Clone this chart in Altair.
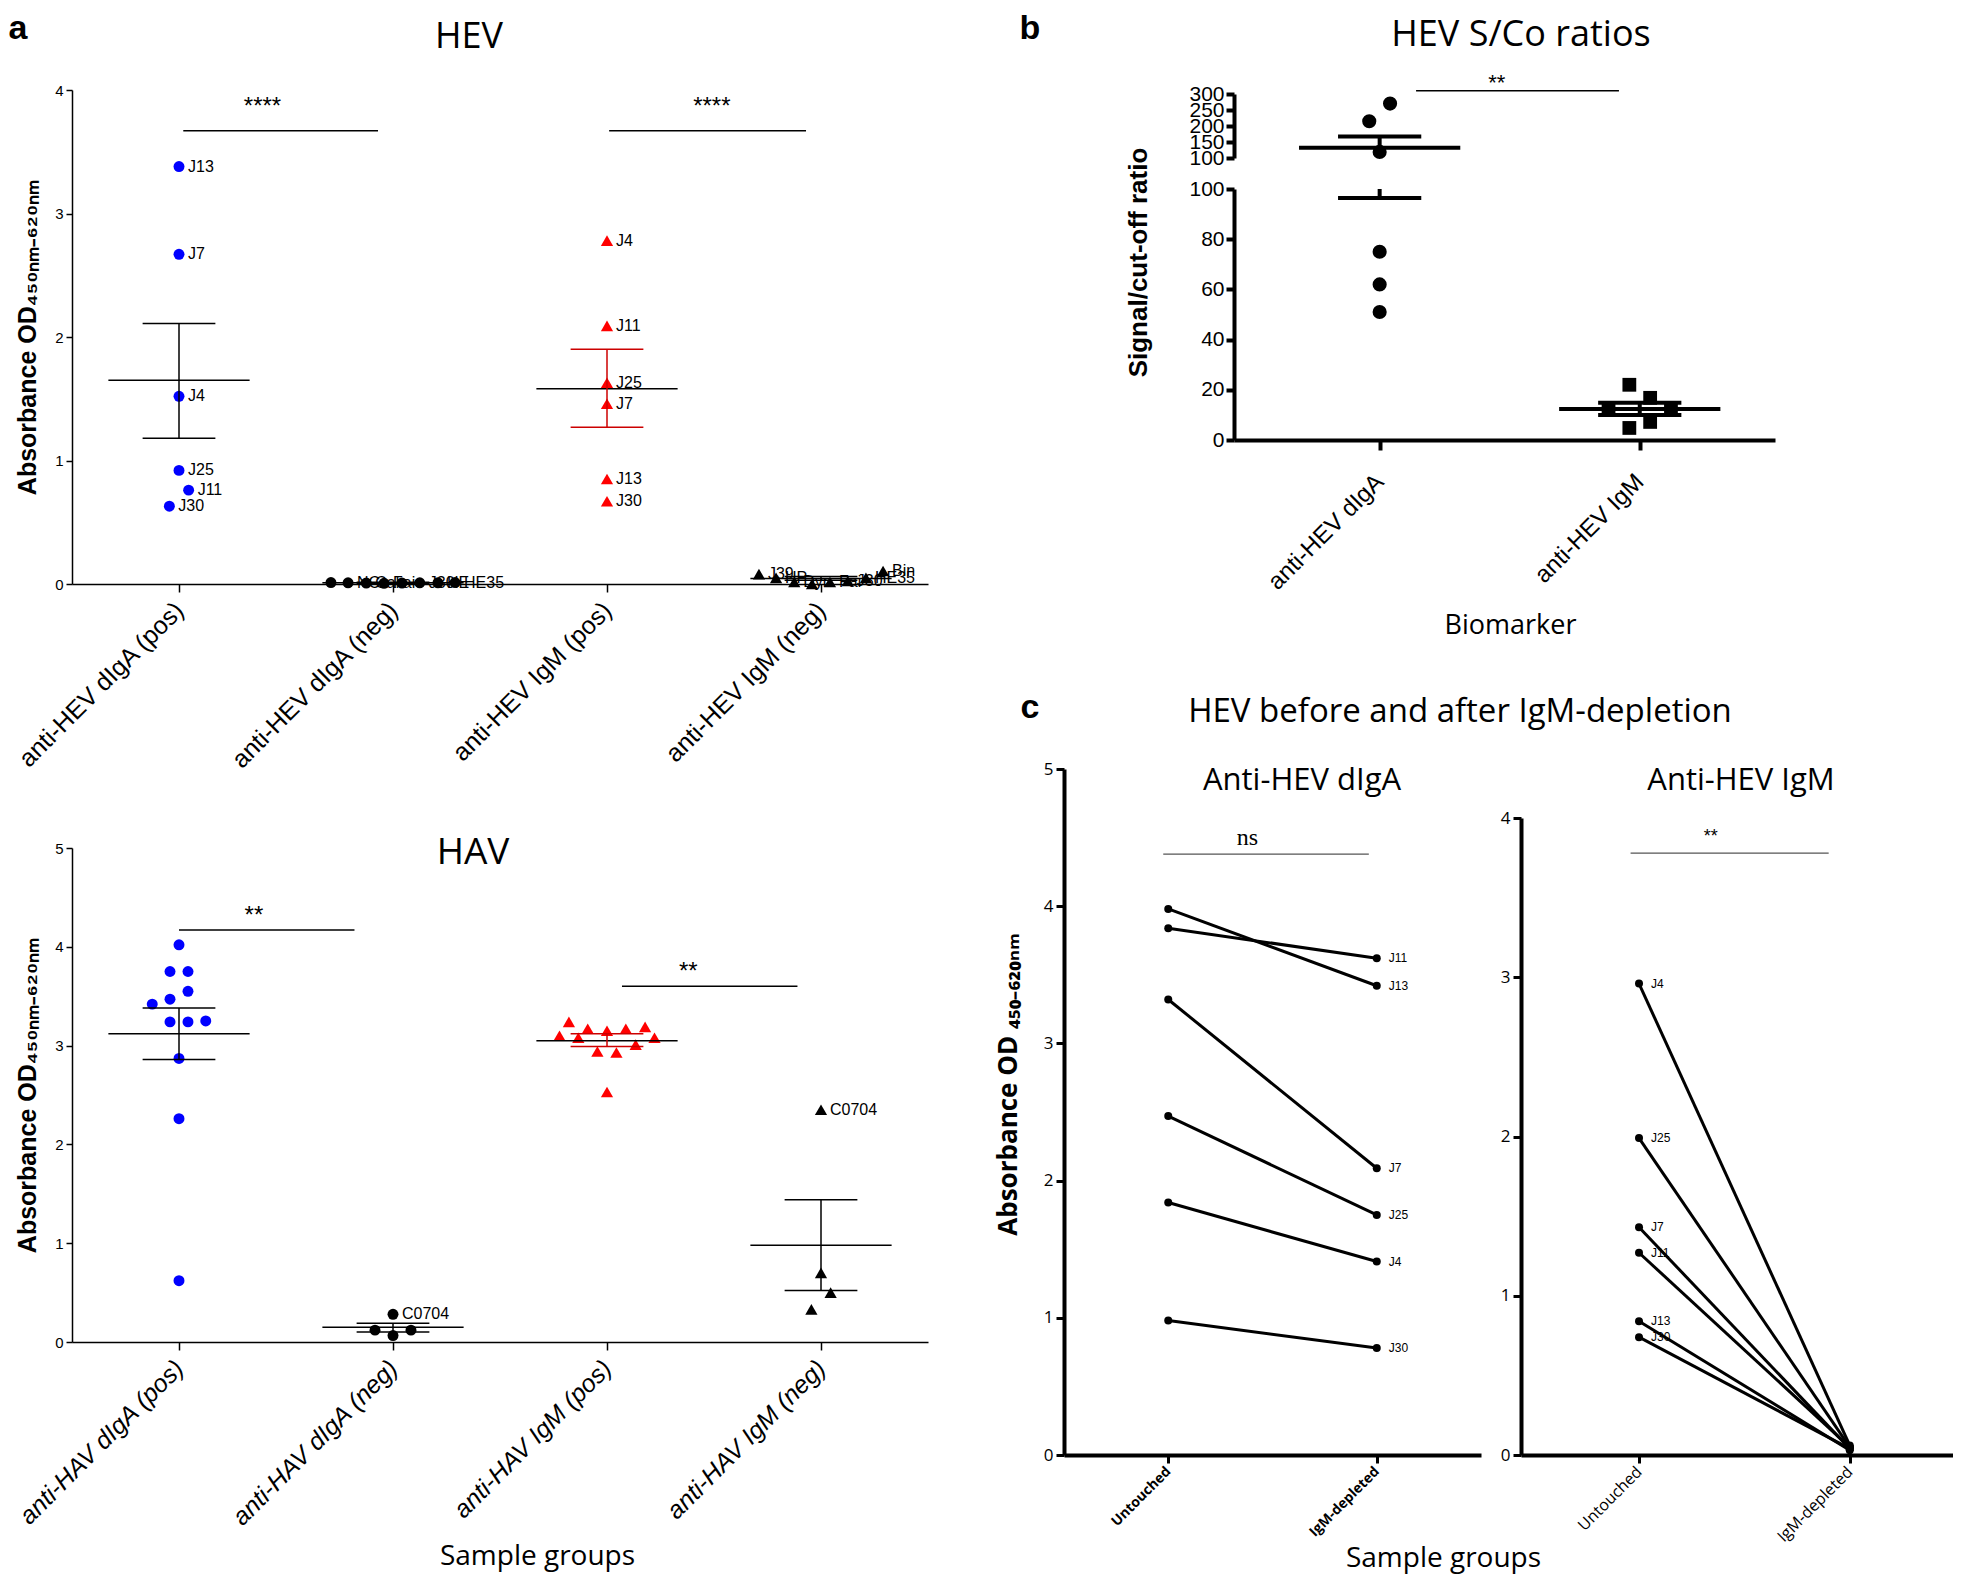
import altair as alt
import pandas as pd

FA = "Liberation Sans"
FT = "Open Sans"
FS = "Liberation Serif"

# ---------------- Panel a : HEV ----------------
hev_groups = ["anti-HEV dIgA (pos)", "anti-HEV dIgA (neg)", "anti-HEV IgM (pos)", "anti-HEV IgM (neg)"]
hev_dIgA_pos_labels = ["J13", "J7", "J4", "J25", "J11", "J30"]
hev_dIgA_pos_values = [3.38, 2.67, 1.52, 0.92, 0.76, 0.63]
hev_dIgA_pos_offsets = [0, 0, 0, 0, 0.045, -0.045]
hev_dIgA_neg_labels = ["", "NC", "Cal", "Fai", "", "J30", "HE", "HE35"]
hev_dIgA_neg_values = [0.012, 0.010, 0.008, 0.006, 0.008, 0.010, 0.010, 0.012]
hev_dIgA_neg_offsets = [-0.29, -0.21, -0.125, -0.042, 0.042, 0.125, 0.21, 0.29]
hev_IgM_pos_labels = ["J4", "J11", "J25", "J7", "J13", "J30"]
hev_IgM_pos_values = [2.78, 2.09, 1.63, 1.46, 0.85, 0.67]
hev_IgM_pos_offsets = [0, 0, 0, 0, 0, 0]
hev_IgM_neg_labels = ["J39", "HP", "Dyn", "", "Fai", "J30", "HE35", "Bin"]
hev_IgM_neg_values = [0.08, 0.05, 0.016, 0.0, 0.016, 0.024, 0.05, 0.105]
hev_IgM_neg_offsets = [-0.29, -0.21, -0.125, -0.042, 0.042, 0.125, 0.21, 0.29]
hev_mean = [1.65, 0.010, 1.58, 0.045]
hev_sem_low = [1.18, 0.006, 1.27, 0.030]
hev_sem_high = [2.11, 0.014, 1.90, 0.060]
hev_sig_from = [1.02, 3.01]
hev_sig_to = [1.93, 3.93]
hev_sig_level = [3.67, 3.67]
hev_sig_text_x = [1.39, 3.49]
hev_sig_text_y = [3.86, 3.86]
hev_sig_text = ["****", "****"]

# ---------------- Panel a : HAV ----------------
hav_groups = ["anti-HAV dIgA (pos)", "anti-HAV dIgA (neg)", "anti-HAV IgM (pos)", "anti-HAV IgM (neg)"]
hav_dIgA_pos_values = [4.02, 3.75, 3.75, 3.55, 3.47, 3.42, 3.24, 3.24, 3.25, 2.87, 2.26, 0.62]
hav_dIgA_pos_offsets = [0, -0.042, 0.042, 0.042, -0.042, -0.125, -0.042, 0.042, 0.125, 0, 0, 0]
hav_dIgA_neg_labels = ["C0704", "", "", ""]
hav_dIgA_neg_values = [0.28, 0.12, 0.065, 0.12]
hav_dIgA_neg_offsets = [0, -0.084, 0, 0.084]
hav_IgM_pos_values = [3.24, 3.10, 3.08, 3.17, 3.15, 3.17, 3.19, 3.08, 3.01, 2.94, 2.93, 2.53]
hav_IgM_pos_offsets = [-0.178, -0.222, -0.134, -0.09, 0, 0.088, 0.178, 0.222, 0.134, -0.045, 0.044, 0]
hav_IgM_neg_labels = ["C0704", "", "", ""]
hav_IgM_neg_values = [2.35, 0.70, 0.50, 0.33]
hav_IgM_neg_offsets = [0, 0, 0.045, -0.045]
hav_mean = [3.12, 0.15, 3.05, 0.98]
hav_sem_low = [2.86, 0.10, 2.99, 0.52]
hav_sem_high = [3.38, 0.19, 3.12, 1.44]
hav_sig_from = [1.00, 3.07]
hav_sig_to = [1.82, 3.89]
hav_sig_level = [4.17, 3.60]
hav_sig_text_x = [1.35, 3.38]
hav_sig_text_y = [4.31, 3.75]
hav_sig_text = ["**", "**"]

# ---------------- Panel b : S/Co ratios ----------------
b_groups = ["anti-HEV dIgA", "anti-HEV IgM"]
b_dIgA_values = [270, 215, 119, 75, 62, 51]
b_dIgA_offsets = [0.04, -0.04, 0, 0, 0, 0]
b_IgM_values = [22, 16.8, 12.8, 12.8, 7.2, 4.8]
b_IgM_offsets = [-0.04, 0.04, -0.12, 0.12, 0.04, -0.04]
b_mean = [132, 12.4]
b_sem_low = [96.4, 10.0]
b_sem_high = [167, 14.8]
b_break = 100
b_top = 300
b_upper_ticks = [100, 150, 200, 250, 300]
b_lower_ticks = [0, 20, 40, 60, 80, 100]
b_sig_from = [1.14]
b_sig_to = [1.92]
b_sig_level = [310]
b_sig_text_x = [1.45]
b_sig_text_y = [335]
b_sig_text = ["**"]

# ---------------- Panel c : before / after IgM depletion ----------------
c_stages = ["Untouched", "IgM-depleted"]
c_dIgA_labels = ["J11", "J13", "J7", "J25", "J4", "J30"]
c_dIgA_untouched = [3.84, 3.98, 3.32, 2.47, 1.84, 0.98]
c_dIgA_depleted = [3.62, 3.42, 2.09, 1.75, 1.41, 0.78]
c_IgM_labels = ["J4", "J25", "J7", "J11", "J13", "J30"]
c_IgM_untouched = [2.96, 1.99, 1.43, 1.27, 0.84, 0.74]
c_IgM_depleted = [0.06, 0.05, 0.04, 0.05, 0.03, 0.04]

# ======================================================================
YTITLE_A = "Absorbance OD\u2084\u2085\u2080\u2099\u2098\u208b\u2086\u2082\u2080\u2099\u2098"
YTITLE_C = "Absorbance OD \u2084\u2085\u2080\u208b\u2086\u2082\u2080\u2099\u2098"


def txt(text, px, py, font, size, weight="normal", align="center"):
    return alt.Chart(pd.DataFrame({"t": [text]})).mark_text(
        font=font, fontSize=size, fontWeight=weight, align=align,
        baseline="middle", color="black"
    ).encode(x=alt.value(px), y=alt.value(py), text="t:N")


def dot_points(spec, sizes):
    rows = []
    for g, (labels, values, offsets, color, shape) in enumerate(spec, start=1):
        for lab, v, o in zip(labels, values, offsets):
            rows.append({"g": g, "x": g + o, "y": v, "label": lab,
                         "color": color, "shape": shape, "size": sizes[shape]})
    return pd.DataFrame(rows)


def stats_frames(means, lows, highs, colors, mean_half, cap_half, seg=(-1e9, 1e9)):
    lo_d, hi_d = seg
    m_rows, c_rows, b_rows = [], [], []
    for g, (m, l, h, c) in enumerate(zip(means, lows, highs, colors), start=1):
        if lo_d <= m <= hi_d:
            m_rows.append({"x1": g - mean_half, "x2": g + mean_half, "y": m})
        for v in (l, h):
            if lo_d <= v <= hi_d:
                c_rows.append({"x1": g - cap_half, "x2": g + cap_half, "y": v, "color": c})
        a, b = max(l, lo_d), min(h, hi_d)
        if a < b:
            b_rows.append({"x": g, "y1": a, "y2": b, "color": c})
    return pd.DataFrame(m_rows), pd.DataFrame(c_rows), pd.DataFrame(b_rows)


def sig_frame(x1, x2, y, tx, ty, text):
    return pd.DataFrame({"x1": x1, "x2": x2, "y": y, "tx": tx, "ty": ty, "text": text})


def dot_layers(xs, xax, ys, yax, pts, mdf, cdf, bdf, sdf, lw, label_size, star_size, show_labels=True):
    X = lambda f: alt.X(f, scale=xs, axis=xax)
    Y = lambda f: alt.Y(f, scale=ys, axis=yax)
    layers = [
        alt.Chart(pts).mark_point(filled=True, opacity=1, strokeWidth=0).encode(
            x=X("x:Q"), y=Y("y:Q"),
            color=alt.Color("color:N", scale=None),
            shape=alt.Shape("shape:N", scale=None),
            size=alt.Size("size:Q", scale=None)),
        alt.Chart(mdf).mark_rule(strokeWidth=lw, color="black").encode(
            x=X("x1:Q"), x2="x2:Q", y=Y("y:Q")),
        alt.Chart(cdf).mark_rule(strokeWidth=lw).encode(
            x=X("x1:Q"), x2="x2:Q", y=Y("y:Q"), color=alt.Color("color:N", scale=None)),
        alt.Chart(bdf).mark_rule(strokeWidth=lw).encode(
            x=X("x:Q"), y=Y("y1:Q"), y2="y2:Q", color=alt.Color("color:N", scale=None)),
    ]
    if show_labels:
        layers.append(alt.Chart(pts).mark_text(
            align="left", baseline="middle", dx=9, font=FA, fontSize=label_size, color="black"
        ).encode(x=X("x:Q"), y=Y("y:Q"), text="label:N"))
    if sdf is not None:
        layers.append(alt.Chart(sdf).mark_rule(strokeWidth=1.5, color="black").encode(
            x=X("x1:Q"), x2="x2:Q", y=Y("y:Q")))
        layers.append(alt.Chart(sdf).mark_text(font=FA, fontSize=star_size, color="black",
                                               baseline="middle").encode(
            x=X("tx:Q"), y=Y("ty:Q"), text="text:N"))
    return layers


def panel_a(groups, spec, means, lows, highs, bar_colors, sdf, ydomain, yticks, italic,
            overlays, x_title=None):
    xs = alt.Scale(domain=[0.5, 4.5], nice=False, zero=False)
    ys = alt.Scale(domain=ydomain, nice=False, zero=False)
    lbl = "[" + ",".join("'" + s + "'" for s in groups) + "][datum.value - 1]"
    xkw = dict(values=[1, 2, 3, 4], labelExpr=lbl, labelAngle=-45, labelAlign="right",
               labelBaseline="middle", labelFont=FA, labelFontSize=25, labelColor="black",
               labelPadding=14, labelFontStyle="italic" if italic else "normal",
               labelLimit=0, labelOverlap=False, labelFlush=False, grid=False, tickSize=8,
               tickWidth=1.5, tickColor="black", domainColor="black", domainWidth=1.5)
    if x_title:
        xkw.update(title=x_title, titleFont=FT, titleFontSize=28, titleFontWeight="normal",
                   titleColor="black", titleX=465, titleY=214, titleBaseline="middle",
                   titleAlign="center")
    else:
        xkw.update(title=None)
    xax = alt.Axis(**xkw)
    yax = alt.Axis(values=yticks, title=YTITLE_A, titleFont=FA, titleFontSize=25,
                   titleFontWeight="bold", titleColor="black", titlePadding=6,
                   labelFont=FA, labelFontSize=15, labelColor="black", labelPadding=3,
                   tickSize=6, tickWidth=1.5, tickColor="black", domainColor="black",
                   domainWidth=1.5, grid=False, minExtent=26, maxExtent=26, labelOverlap=False)
    pts = dot_points(spec, {"circle": 120, "triangle-up": 150, "square": 150})
    mdf, cdf, bdf = stats_frames(means, lows, highs, bar_colors, 0.33, 0.17)
    layers = dot_layers(xs, xax, ys, yax, pts, mdf, cdf, bdf, sdf, 1.5, 16, 24)
    return alt.layer(*layers, *overlays).properties(width=856, height=494)


# ---------------- build panel a ----------------
hev_spec = [
    (hev_dIgA_pos_labels, hev_dIgA_pos_values, hev_dIgA_pos_offsets, "#0000ff", "circle"),
    (hev_dIgA_neg_labels, hev_dIgA_neg_values, hev_dIgA_neg_offsets, "black", "circle"),
    (hev_IgM_pos_labels, hev_IgM_pos_values, hev_IgM_pos_offsets, "#ff0000", "triangle-up"),
    (hev_IgM_neg_labels, hev_IgM_neg_values, hev_IgM_neg_offsets, "black", "triangle-up"),
]
hev = panel_a(hev_groups, hev_spec, hev_mean, hev_sem_low, hev_sem_high,
              ["black", "black", "#cc0000", "black"],
              sig_frame(hev_sig_from, hev_sig_to, hev_sig_level, hev_sig_text_x, hev_sig_text_y, hev_sig_text),
              [0, 4], [0, 1, 2, 3, 4], False,
              [txt("a", -54, -61, FA, 34, "bold"), txt("HEV", 397, -53, FT, 36)])

hav_spec = [
    ([""] * len(hav_dIgA_pos_values), hav_dIgA_pos_values, hav_dIgA_pos_offsets, "#0000ff", "circle"),
    (hav_dIgA_neg_labels, hav_dIgA_neg_values, hav_dIgA_neg_offsets, "black", "circle"),
    ([""] * len(hav_IgM_pos_values), hav_IgM_pos_values, hav_IgM_pos_offsets, "#ff0000", "triangle-up"),
    (hav_IgM_neg_labels, hav_IgM_neg_values, hav_IgM_neg_offsets, "black", "triangle-up"),
]
hav = panel_a(hav_groups, hav_spec, hav_mean, hav_sem_low, hav_sem_high,
              ["black", "black", "#cc0000", "black"],
              sig_frame(hav_sig_from, hav_sig_to, hav_sig_level, hav_sig_text_x, hav_sig_text_y, hav_sig_text),
              [0, 5], [0, 1, 2, 3, 4, 5], True,
              [txt("HAV", 401, 5, FT, 37)], x_title="Sample groups")

# ---------------- build panel b (broken y axis: two scales in one layered view) ----------------
b_spec = [
    ([""] * len(b_dIgA_values), b_dIgA_values, b_dIgA_offsets, "black", "circle"),
    ([""] * len(b_IgM_values), b_IgM_values, b_IgM_offsets, "black", "square"),
]
b_pts = dot_points(b_spec, {"circle": 200, "triangle-up": 200, "square": 190})
B_H = 350
b_xs = alt.Scale(domain=[0.44, 2.52], range=[170, 711], nice=False, zero=False)
b_lbl = "[" + ",".join("'" + s + "'" for s in b_groups) + "][datum.value - 1]"
b_xax = alt.Axis(values=[1, 2], labelExpr=b_lbl, labelAngle=-45, labelAlign="right",
                 labelBaseline="middle", labelFont=FA, labelFontSize=24, labelColor="black",
                 labelPadding=28, labelLimit=0, labelFlush=False, labelOverlap=False,
                 grid=False, tickSize=10, tickWidth=4, tickColor="black", domainWidth=4,
                 domainColor="black", title="Biomarker", titleFont=FT, titleFontSize=27,
                 titleFontWeight="normal", titleColor="black", titleX=446, titleY=185,
                 titleBaseline="middle", titleAlign="center")
b_common_y = dict(orient="left", offset=-170, labelFont=FA, labelFontSize=21,
                  labelColor="black", labelOverlap=False, labelPadding=2, tickSize=8,
                  tickWidth=4, tickColor="black", domainWidth=4, domainColor="black",
                  grid=False)

b_up_ys = alt.Scale(domain=[b_break, b_top], range=[68, 4], nice=False, zero=False)
b_up_yax = alt.Axis(values=b_upper_ticks, title=None, **b_common_y)
mdf, cdf, bdf = stats_frames(b_mean, b_sem_low, b_sem_high, ["black", "black"], 0.31, 0.16,
                             seg=(b_break, b_top))
b_upper = alt.layer(
    *dot_layers(b_xs, b_xax, b_up_ys, b_up_yax, b_pts[b_pts.y >= b_break], mdf, cdf, bdf,
                sig_frame(b_sig_from, b_sig_to, b_sig_level, b_sig_text_x, b_sig_text_y, b_sig_text),
                4, 14, 22, show_labels=False),
    txt("b", -34, -61, FA, 34, "bold"),
    txt("HEV S/Co ratios", 457, -55, FT, 36),
)

b_lo_ys = alt.Scale(domain=[0, b_break], range=[B_H, 99], nice=False, zero=False)
b_lo_yax = alt.Axis(values=b_lower_ticks, title="Signal/cut-off ratio", titleFont=FA,
                    titleFontSize=26, titleFontWeight="bold", titleColor="black",
                    titleX=-96, titleY=172, titleBaseline="middle", titleAlign="center",
                    titleAngle=270, **b_common_y)
mdf, cdf, bdf = stats_frames(b_mean, b_sem_low, b_sem_high, ["black", "black"], 0.31, 0.16,
                             seg=(0, b_break))
b_lower = alt.layer(
    *dot_layers(b_xs, b_xax, b_lo_ys, b_lo_yax, b_pts[b_pts.y < b_break], mdf, cdf, bdf,
                None, 4, 14, 22, show_labels=False),
)
b_chart = alt.layer(b_upper, b_lower).resolve_scale(y="independent").resolve_axis(
    y="independent").properties(width=711, height=B_H)


# ---------------- build panel c ----------------
def pair_df(labels, before, after):
    rows = []
    for lab, b, a in zip(labels, before, after):
        rows.append({"sample": lab, "stage": 1, "value": b})
        rows.append({"sample": lab, "stage": 2, "value": a})
    return pd.DataFrame(rows)


def panel_c(df, label_stage, xdomain, ydomain, yticks, yrange, width, height, bold_x,
            sdf, star_font, star_size, overlays, ytitle=None, xtitle=None):
    xs = alt.Scale(domain=xdomain, nice=False, zero=False)
    if yrange is None:
        ys = alt.Scale(domain=ydomain, nice=False, zero=False)
    else:
        ys = alt.Scale(domain=ydomain, range=yrange, nice=False, zero=False)
    lbl = "[" + ",".join("'" + s + "'" for s in c_stages) + "][datum.value - 1]"
    xkw = dict(values=[1, 2], labelExpr=lbl, labelAngle=-45, labelAlign="right",
               labelBaseline="middle", labelFont=FT, labelFontSize=14 if bold_x else 16,
               labelFontWeight="bold" if bold_x else "normal", labelColor="black",
               labelPadding=6, labelLimit=0, labelFlush=False, labelOverlap=False, grid=False,
               tickSize=8, tickWidth=3, tickColor="black", domainWidth=4, domainColor="black")
    if xtitle:
        xkw.update(title=xtitle, titleFont=FT, titleFontSize=28, titleFontWeight="normal",
                   titleColor="black", titleX=379, titleY=103, titleBaseline="middle",
                   titleAlign="center")
    else:
        xkw.update(title=None)
    ykw = dict(values=yticks, labelFont=FT, labelFontSize=17, labelColor="black",
               labelPadding=3, labelOverlap=False, tickSize=8, tickWidth=3,
               tickColor="black", domainWidth=4, domainColor="black", grid=False)
    if ytitle:
        ykw.update(title=ytitle, titleFont=FT, titleFontSize=26, titleFontWeight="bold",
                   titleColor="black", titleX=-56, titleY=315, titleBaseline="middle",
                   titleAlign="center", titleAngle=270)
    else:
        ykw.update(title=None)
    xax = alt.Axis(**xkw)
    yax = alt.Axis(**ykw)
    X = lambda f: alt.X(f, scale=xs, axis=xax)
    Y = lambda f: alt.Y(f, scale=ys, axis=yax)
    lines = alt.Chart(df).mark_line(color="black", strokeWidth=3).encode(
        x=X("stage:Q"), y=Y("value:Q"), detail="sample:N")
    dots = alt.Chart(df).mark_circle(size=64, color="black", opacity=1).encode(
        x=X("stage:Q"), y=Y("value:Q"))
    labs = alt.Chart(df[df.stage == label_stage]).mark_text(
        align="left", baseline="middle", dx=12, font=FA, fontSize=12, color="black"
    ).encode(x=X("stage:Q"), y=Y("value:Q"), text="sample:N")
    srule = alt.Chart(sdf).mark_rule(strokeWidth=1.2, color="#555555").encode(
        x=X("x1:Q"), x2="x2:Q", y=Y("y:Q"))
    stext = alt.Chart(sdf).mark_text(font=star_font, fontSize=star_size, color="black",
                                     baseline="middle").encode(
        x=X("tx:Q"), y=Y("ty:Q"), text="text:N")
    return alt.layer(lines, dots, labs, srule, stext, *overlays).properties(
        width=width, height=height)


c_left = panel_c(pair_df(c_dIgA_labels, c_dIgA_untouched, c_dIgA_depleted), 2,
                 [0.5, 2.5], [0, 5], [0, 1, 2, 3, 4, 5], None, 417, 686, True,
                 sig_frame([0.976], [1.962], [4.38], [1.38], [4.50], ["ns"]), FS, 24,
                 [txt("c", -34, -61, FA, 34, "bold"),
                  txt("HEV before and after IgM-depletion", 396, -57, FT, 33),
                  txt("Anti-HEV dIgA", 238, 12, FT, 31)],
                 ytitle=YTITLE_C, xtitle="Sample groups")
c_right = panel_c(pair_df(c_IgM_labels, c_IgM_untouched, c_IgM_depleted), 1,
                  [0.44, 2.49], [0, 4], [0, 1, 2, 3, 4], [686, 49], 432, 686, False,
                  sig_frame([0.96], [1.90], [3.78], [1.34], [3.88], ["**"]), FA, 18,
                  [txt("Anti-HEV IgM", 220, 12, FT, 31)])
c_row = alt.hconcat(c_left, c_right, spacing=40, bounds="flush")

left_col = alt.vconcat(hev, hav, spacing=60)
right_col = alt.vconcat(b_chart, c_row, spacing=53)

chart = alt.hconcat(left_col, right_col, spacing=67).properties(
    padding={"left": 0, "top": 4, "right": 0, "bottom": 6}, background="white"
).configure_view(strokeWidth=0)

chart.save("out.html", embed_options={"renderer": "svg", "actions": False})
